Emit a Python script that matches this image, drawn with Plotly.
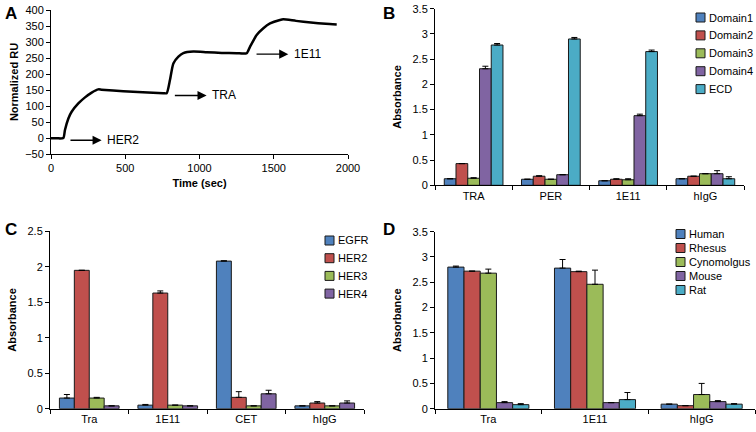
import plotly.graph_objects as go

# ---- panel A: SPR sensorgram ----
time_s = [0, 40, 83, 94, 117, 139, 184, 229, 274, 319, 340, 487, 756, 779, 801, 824, 858,
          891, 958, 1050, 1150, 1250, 1318, 1340, 1385, 1430, 1475, 1542, 1564, 1650, 1750,
          1850, 1924]
norm_ru = [-1, -1, 0, 25, 61, 82, 108, 127, 142, 152, 151, 146, 140, 140, 181, 233, 254,
           265, 270, 268, 266, 265, 265, 285, 322, 343, 358, 369, 371, 366, 361, 357, 355]
inj_labels = ["HER2", "TRA", "1E11"]
inj_start = [121, 824, 1374]
inj_end = [341, 1048, 1598]
inj_level = [-7, 133, 262]

# ---- panel B: HER2 domains ----
b_cats = ["TRA", "PER", "1E11", "hIgG"]
b_series = ["Domain1", "Domain2", "Domain3", "Domain4", "ECD"]
b_vals = [[0.13, 0.12, 0.09, 0.13],
          [0.43, 0.18, 0.12, 0.18],
          [0.14, 0.12, 0.11, 0.23],
          [2.31, 0.21, 1.38, 0.23],
          [2.78, 2.90, 2.65, 0.13]]
b_err = [[0.0, 0.0, 0.0, 0.0],
         [0.0, 0.01, 0.01, 0.0],
         [0.01, 0.0, 0.02, 0.0],
         [0.05, 0.0, 0.03, 0.06],
         [0.03, 0.03, 0.03, 0.04]]

# ---- panel C: HER family ----
c_cats = ["Tra", "1E11", "CET", "hIgG"]
c_series = ["EGFR", "HER2", "HER3", "HER4"]
c_vals = [[0.15, 0.05, 2.08, 0.04],
          [1.95, 1.63, 0.16, 0.08],
          [0.15, 0.05, 0.04, 0.04],
          [0.04, 0.04, 0.21, 0.08]]
c_err = [[0.05, 0.01, 0.005, 0.0],
         [0.0, 0.03, 0.08, 0.02],
         [0.01, 0.0, 0.0, 0.0],
         [0.0, 0.0, 0.05, 0.03]]

# ---- panel D: species ----
d_cats = ["Tra", "1E11", "hIgG"]
d_series = ["Human", "Rhesus", "Cynomolgus", "Mouse", "Rat"]
d_vals = [[2.80, 2.78, 0.09],
          [2.72, 2.71, 0.06],
          [2.68, 2.46, 0.28],
          [0.12, 0.12, 0.14],
          [0.08, 0.18, 0.09]]
d_err = [[0.02, 0.17, 0.0],
         [0.0, 0.01, 0.0],
         [0.08, 0.28, 0.22],
         [0.02, 0.0, 0.02],
         [0.02, 0.14, 0.01]]

colors = ["#4F81BD", "#C0504D", "#9BBB59", "#8064A2", "#4BACC6"]
FONT = "Liberation Sans, Arial, sans-serif"
W, H = 756, 432

fig = go.Figure()

fig.add_trace(go.Scatter(x=time_s, y=norm_ru, mode="lines", showlegend=False,
                         line=dict(color="black", width=2.5, shape="spline", smoothing=0.6),
                         xaxis="x", yaxis="y"))

for i in range(len(inj_labels)):
    fig.add_annotation(x=inj_end[i], y=inj_level[i], ax=inj_start[i], ay=inj_level[i],
                       xref="x", yref="y", axref="x", ayref="y", text="",
                       showarrow=True, arrowhead=2, arrowsize=1.3, arrowwidth=1.4,
                       arrowcolor="black")
    fig.add_annotation(x=inj_end[i] + 25, y=inj_level[i], xref="x", yref="y",
                       text=inj_labels[i], showarrow=False, xanchor="left",
                       font=dict(size=12, color="black", family=FONT))


def add_bars(cats, names, vals, errs, xa, ya):
    for k, name in enumerate(names):
        fig.add_trace(go.Bar(
            x=cats, y=vals[k], name=name, xaxis=xa, yaxis=ya, showlegend=False,
            marker=dict(color=colors[k], line=dict(color="#1a1a1a", width=1)),
            error_y=dict(type="data", symmetric=False, array=errs[k],
                         arrayminus=[0] * len(cats), color="black", thickness=1, width=3)))


def add_legend(names, left, top, step):
    # Excel-style legend: small outlined square + label
    for k, name in enumerate(names):
        yc = top + k * step
        fig.add_shape(type="rect", xref="paper", yref="paper",
                      x0=left / W, x1=(left + 9) / W,
                      y0=1 - (yc + 4.5) / H, y1=1 - (yc - 4.5) / H,
                      fillcolor=colors[k], line=dict(color="#1a1a1a", width=1))
        fig.add_annotation(x=(left + 11) / W, y=1 - yc / H, xref="paper", yref="paper",
                           xanchor="left", yanchor="middle", text=name, showarrow=False,
                           font=dict(size=11, color="black", family=FONT))


add_bars(b_cats, b_series, b_vals, b_err, "x2", "y2")
add_bars(c_cats, c_series, c_vals, c_err, "x3", "y3")
add_bars(d_cats, d_series, d_vals, d_err, "x4", "y4")

add_legend(b_series, 696, 17.5, 17.9)
add_legend(c_series, 325, 240.5, 17.7)
add_legend(d_series, 676, 234, 14)

tickfont = dict(size=11, color="black", family=FONT)
titlefont = dict(size=11, color="black", family=FONT, weight="bold")
ax_common = dict(showline=True, linecolor="black", linewidth=1, showgrid=False,
                 zeroline=False, ticks="outside", ticklen=4, tickcolor="black",
                 tickfont=tickfont, automargin=False)

fig.update_layout(
    width=W, height=H,
    margin=dict(l=0, r=0, t=0, b=0, autoexpand=False),
    paper_bgcolor="white", plot_bgcolor="white",
    font=dict(family=FONT, color="black"),
    showlegend=False,
    barmode="group", bargap=0.24, bargroupgap=0,
    xaxis=dict(domain=[51 / W, 348 / W], anchor="y", range=[0, 2000], dtick=500,
               title=dict(text="Time (sec)", font=titlefont, standoff=6), **ax_common),
    yaxis=dict(domain=[1 - 154 / H, 1 - 10 / H], anchor="x", range=[-50, 400], dtick=50,
               title=dict(text="Normalized RU", font=titlefont, standoff=4), **ax_common),
    xaxis2=dict(domain=[435 / W, 744 / W], anchor="y2", tickson="boundaries", **ax_common),
    yaxis2=dict(domain=[1 - 185.3 / H, 1 - 8.7 / H], anchor="x2", range=[0, 3.5], dtick=0.5,
                title=dict(text="Absorbance", font=titlefont, standoff=8), **ax_common),
    xaxis3=dict(domain=[50 / W, 364 / W], anchor="y3", tickson="boundaries", **ax_common),
    yaxis3=dict(domain=[1 - 408.7 / H, 1 - 231.3 / H], anchor="x3", range=[0, 2.5], dtick=0.5,
                title=dict(text="Absorbance", font=titlefont, standoff=8), **ax_common),
    xaxis4=dict(domain=[435 / W, 755 / W], anchor="y4", tickson="boundaries", **ax_common),
    yaxis4=dict(domain=[1 - 408.7 / H, 1 - 231.7 / H], anchor="x4", range=[0, 3.5], dtick=0.5,
                title=dict(text="Absorbance", font=titlefont, standoff=8), **ax_common),
)

for letter, px, py in [("A", 3, 2), ("B", 381, 2), ("C", 3, 218), ("D", 381, 218)]:
    fig.add_annotation(x=px / W, y=1 - py / H, xref="paper", yref="paper",
                       xanchor="left", yanchor="top", text="<b>%s</b>" % letter,
                       showarrow=False, font=dict(size=17, color="black", family=FONT))

# drop the default 8px page margin so the figure sits at the window's corner
fig.write_html("out.html", config={"displayModeBar": False},
               post_script="document.body.style.margin='0px';")
